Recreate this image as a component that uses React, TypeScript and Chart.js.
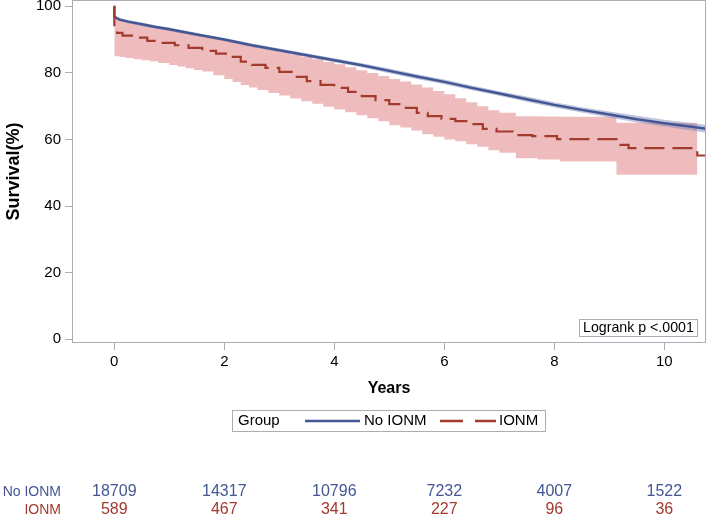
import React, { useEffect, useRef } from "react";
import { Chart, registerables } from "chart.js";

Chart.register(...registerables);

// ---- data ----
const xTickValues = [0, 2, 4, 6, 8, 10];
const yTickValues = [0, 20, 40, 60, 80, 100];

// No IONM survival curve
const blueTimes = [0, 0.001, 0.1, 0.25, 0.5, 0.75, 1, 1.5, 2, 2.5, 3, 3.5, 4, 4.5, 5, 5.5, 6, 6.5, 7, 7.5, 8, 8.5, 9, 9.5, 10, 10.5, 10.76];
const blueSurv = [100, 96.8, 96.0, 95.4, 94.6, 93.8, 93.1, 91.5, 90.0, 88.3, 86.8, 85.3, 83.8, 82.3, 80.6, 78.9, 77.3, 75.5, 73.8, 72.1, 70.4, 68.9, 67.5, 66.1, 64.9, 63.8, 63.2];
const blueUpper = [100, 97.3, 96.5, 95.9, 95.1, 94.3, 93.6, 92.0, 90.5, 88.8, 87.3, 85.9, 84.4, 82.9, 81.3, 79.6, 78.0, 76.2, 74.5, 72.9, 71.2, 69.7, 68.4, 67.1, 65.9, 64.9, 64.4];
const blueLower = [100, 96.3, 95.5, 94.9, 94.1, 93.3, 92.6, 91.0, 89.5, 87.8, 86.3, 84.7, 83.2, 81.7, 79.9, 78.2, 76.6, 74.8, 73.1, 71.3, 69.6, 68.1, 66.6, 65.1, 63.9, 62.7, 62.0];

// IONM survival curve (step function)
const redTimes = [0, 0.001, 0.05, 0.15, 0.35, 0.6, 0.85, 1.1, 1.35, 1.6, 1.85, 2.05, 2.3, 2.5, 2.75, 3.0, 3.25, 3.5, 3.75, 4.0, 4.25, 4.5, 4.75, 5.0, 5.25, 5.5, 5.7, 5.95, 6.2, 6.45, 6.7, 6.95, 7.25, 7.6, 8.05, 9.13, 9.2, 9.35, 10.6, 10.76];
const redSurv = [100, 93.5, 92.0, 91.2, 90.6, 89.6, 89.0, 88.3, 87.5, 86.6, 85.8, 84.8, 83.4, 82.4, 81.5, 80.3, 78.8, 77.5, 76.4, 75.5, 74.3, 73.0, 71.8, 70.6, 69.5, 68.0, 67.0, 66.2, 65.5, 64.6, 63.2, 62.4, 61.3, 61.0, 60.1, 59.0, 58.4, 57.4, 55.2, 55.2];

// IONM confidence band
const redBandTimes = [0, 0.1, 0.2, 0.35, 0.5, 0.65, 0.8, 1.0, 1.15, 1.3, 1.45, 1.6, 1.8, 2.0, 2.15, 2.3, 2.45, 2.6, 2.8, 3.0, 3.2, 3.4, 3.6, 3.8, 4.0, 4.2, 4.4, 4.6, 4.8, 5.0, 5.2, 5.4, 5.6, 5.8, 6.0, 6.2, 6.4, 6.6, 6.8, 7.0, 7.3, 7.7, 8.1, 9.13, 10.6];
const redUpper = [96.0, 95.6, 95.2, 94.8, 94.4, 94.0, 93.6, 93.0, 92.6, 92.1, 91.6, 91.1, 90.4, 89.7, 89.2, 88.6, 88.0, 87.5, 86.9, 86.2, 85.5, 84.8, 84.1, 83.3, 82.6, 81.7, 80.8, 80.0, 79.1, 78.2, 77.4, 76.5, 75.6, 74.6, 73.6, 72.4, 71.2, 70.0, 68.8, 68.0, 67.0, 66.9, 66.8, 65.0, 65.0];
const redLower = [85.0, 84.8, 84.5, 84.1, 83.8, 83.5, 83.0, 82.4, 81.9, 81.4, 80.9, 80.4, 79.3, 78.2, 77.3, 76.4, 75.6, 74.9, 74.0, 73.2, 72.3, 71.5, 70.7, 69.8, 69.0, 68.2, 67.3, 66.4, 65.5, 64.3, 63.6, 62.7, 61.6, 60.8, 60.0, 59.5, 58.6, 57.8, 56.8, 56.0, 54.4, 54.0, 53.4, 49.4, 49.4];

// numbers at risk
const atRiskTimes = [0, 2, 4, 6, 8, 10];
const atRiskNoIONM = [18709, 14317, 10796, 7232, 4007, 1522];
const atRiskIONM = [589, 467, 341, 227, 96, 36];

const groupNames = ["No IONM", "IONM"];
const pValueText = "Logrank p <.0001";

// ---- styles ----
const FONT = "'Liberation Sans', Arial, Helvetica, sans-serif";
const BLUE = "#445694";
const RED = "#A23A2E";
const BLUE_BAND = "rgba(111,126,179,0.45)";
const RED_BAND = "rgba(214,96,96,0.42)";
const FRAME = "#A9AEB4";

const toXY = (xs: number[], ys: number[]) => xs.map((x, i) => ({ x, y: ys[i] }));

const decorPlugin = {
  id: "decor",
  afterDraw(chart: any) {
    const { ctx, chartArea: a, scales } = chart;
    ctx.save();
    // plot frame
    ctx.strokeStyle = FRAME;
    ctx.lineWidth = 1;
    ctx.setLineDash([]);
    ctx.strokeRect(a.left + 0.5, a.top + 0.5, a.right - a.left - 1, a.bottom - a.top - 1);

    // logrank inset box
    ctx.font = `14.2px ${FONT}`;
    ctx.textBaseline = "middle";
    ctx.textAlign = "left";
    const tw = ctx.measureText(pValueText).width;
    const bw = Math.round(tw + 7);
    const bx = 697.5 - bw;
    const by = 319.5;
    ctx.fillStyle = "#fff";
    ctx.fillRect(bx, by, bw, 17);
    ctx.strokeRect(bx, by, bw, 17);
    ctx.fillStyle = "#000";
    ctx.fillText(pValueText, bx + 3.5, by + 9);

    // legend
    const ly = 421;
    ctx.strokeStyle = FRAME;
    ctx.strokeRect(232.5, 410.5, 313, 21);
    ctx.fillStyle = "#000";
    ctx.font = `15px ${FONT}`;
    ctx.fillText("Group", 238, ly);
    ctx.strokeStyle = BLUE;
    ctx.lineWidth = 2.5;
    ctx.beginPath();
    ctx.moveTo(305, ly);
    ctx.lineTo(360, ly);
    ctx.stroke();
    ctx.fillText(groupNames[0], 364, ly);
    ctx.strokeStyle = RED;
    ctx.lineWidth = 2.5;
    ctx.setLineDash([23, 12]);
    ctx.beginPath();
    ctx.moveTo(440, ly);
    ctx.lineTo(496, ly);
    ctx.stroke();
    ctx.setLineDash([]);
    ctx.fillText(groupNames[1], 499, ly);

    // numbers at risk
    const x = scales.x;
    ctx.font = `14px ${FONT}`;
    ctx.textAlign = "right";
    ctx.fillStyle = BLUE;
    ctx.fillText(groupNames[0], 61, 492);
    ctx.fillStyle = RED;
    ctx.fillText(groupNames[1], 61, 510);
    ctx.font = `16px ${FONT}`;
    ctx.textAlign = "center";
    atRiskTimes.forEach((t, i) => {
      const px = x.getPixelForValue(t);
      ctx.fillStyle = BLUE;
      ctx.fillText(String(atRiskNoIONM[i]), px, 492);
      ctx.fillStyle = RED;
      ctx.fillText(String(atRiskIONM[i]), px, 510);
    });
    ctx.restore();
  },
};

export default function App() {
  const ref = useRef<HTMLCanvasElement | null>(null);

  useEffect(() => {
    if (!ref.current) return;
    const chart = new Chart(ref.current, {
      type: "line",
      data: {
        datasets: [
          {
            label: "IONM",
            data: toXY(redTimes, redSurv),
            borderColor: RED,
            borderWidth: 2.2,
            borderDash: [20, 8],
            stepped: true,
            pointRadius: 0,
            fill: false,
            order: 0,
          },
          {
            label: "No IONM",
            data: toXY(blueTimes, blueSurv),
            borderColor: BLUE,
            borderWidth: 2.5,
            pointRadius: 0,
            fill: false,
            tension: 0,
            order: 1,
          },
          {
            label: "No IONM upper",
            data: toXY(blueTimes, blueUpper),
            borderWidth: 0,
            borderColor: "rgba(0,0,0,0)",
            backgroundColor: BLUE_BAND,
            pointRadius: 0,
            fill: "+1",
            order: 2,
          },
          {
            label: "No IONM lower",
            data: toXY(blueTimes, blueLower),
            borderWidth: 0,
            borderColor: "rgba(0,0,0,0)",
            pointRadius: 0,
            fill: false,
            order: 2,
          },
          {
            label: "IONM upper",
            data: toXY(redBandTimes, redUpper),
            borderWidth: 0,
            borderColor: "rgba(0,0,0,0)",
            backgroundColor: RED_BAND,
            stepped: true,
            pointRadius: 0,
            fill: "+1",
            order: 3,
          },
          {
            label: "IONM lower",
            data: toXY(redBandTimes, redLower),
            borderWidth: 0,
            borderColor: "rgba(0,0,0,0)",
            stepped: true,
            pointRadius: 0,
            fill: false,
            order: 3,
          },
        ],
      },
      options: {
        animation: false,
        responsive: false,
        maintainAspectRatio: false,
        events: [],
        layout: { padding: { top: 0, left: 0, right: 1, bottom: 113 } },
        plugins: {
          legend: { display: false },
          tooltip: { enabled: false },
        },
        scales: {
          x: {
            type: "linear",
            min: -0.769,
            max: 10.758,
            border: { display: false },
            grid: { drawOnChartArea: false, drawTicks: true, tickLength: 7, color: FRAME },
            ticks: { color: "#000", font: { family: FONT, size: 15 }, padding: 3, maxRotation: 0 },
            afterBuildTicks: (s: any) => {
              s.ticks = xTickValues.map((v) => ({ value: v }));
            },
            afterFit: (s: any) => {
              s.height = 60;
              s.paddingLeft = 0;
              s.paddingRight = 0;
            },
            title: {
              display: true,
              text: "Years",
              color: "#000",
              font: { family: FONT, size: 16, weight: "bold" },
              padding: { top: 4, bottom: 4.5 },
            },
          },
          y: {
            type: "linear",
            min: -1.11,
            max: 101.89,
            border: { display: false },
            grid: { drawOnChartArea: false, drawTicks: true, tickLength: 7, color: FRAME },
            ticks: { color: "#000", font: { family: FONT, size: 15 }, padding: 4 },
            afterBuildTicks: (s: any) => {
              s.ticks = yTickValues.map((v) => ({ value: v }));
            },
            afterFit: (s: any) => {
              s.width = 72;
              s.paddingTop = 0;
              s.paddingBottom = 0;
            },
            title: {
              display: true,
              text: "Survival(%)",
              color: "#000",
              font: { family: FONT, size: 18, weight: "bold" },
              padding: { top: 3.5, bottom: 4 },
            },
          },
        },
      },
      plugins: [decorPlugin],
    } as any);
    return () => chart.destroy();
  }, []);

  return (
    <div style={{ position: "absolute", left: 0, top: 0, width: 707, height: 516, background: "#fff" }}>
      <canvas ref={ref} width={707} height={516} style={{ display: "block" }} />
    </div>
  );
}
